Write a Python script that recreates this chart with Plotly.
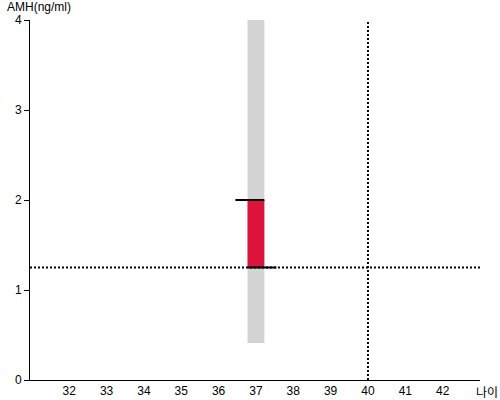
import plotly.graph_objects as go

# Data
age_current = 37
age_ref = 40
band_low, band_high = 0.41, 4.0
amh_expected = 1.25
amh_measured = 2.0
x_ticks = [32, 33, 34, 35, 36, 37, 38, 39, 40, 41, 42]
y_ticks = [0, 1, 2, 3, 4]
x_range = [30.95, 43]
y_range = [0, 4]
bar_w = 0.45

fig = go.Figure()

# gray range band
fig.add_trace(go.Bar(x=[age_current], y=[band_high - band_low], base=[band_low],
                     width=bar_w, marker=dict(color="#D3D3D3", line=dict(width=0)),
                     hoverinfo="skip", showlegend=False))
# red difference bar
fig.add_trace(go.Bar(x=[age_current], y=[amh_measured - amh_expected], base=[amh_expected],
                     width=bar_w, marker=dict(color="#DC143C", line=dict(width=0)),
                     showlegend=False))
# dotted reference lines
fig.add_trace(go.Scatter(x=x_range, y=[amh_expected, amh_expected], mode="lines",
                         line=dict(color="black", width=2, dash="2px,2px"),
                         showlegend=False, hoverinfo="skip"))
fig.add_trace(go.Scatter(x=[age_ref, age_ref], y=[0, 3.98], mode="lines",
                         line=dict(color="black", width=2, dash="2px,2px"),
                         showlegend=False, hoverinfo="skip"))
# solid marker lines
fig.add_trace(go.Scatter(x=[age_current - 0.55, age_current + bar_w / 2], y=[amh_measured, amh_measured],
                         mode="lines", line=dict(color="black", width=2),
                         showlegend=False, hoverinfo="skip"))
fig.add_trace(go.Scatter(x=[age_current - bar_w / 2, age_current + 0.55], y=[amh_expected, amh_expected],
                         mode="lines", line=dict(color="black", width=2),
                         showlegend=False, hoverinfo="skip"))

fig.update_layout(
    width=500, height=400,
    margin=dict(l=30, r=20, t=20, b=20),
    plot_bgcolor="white", paper_bgcolor="white",
    font=dict(family="Liberation Sans, Arial, sans-serif", size=12, color="black"),
    barmode="overlay",
    xaxis=dict(range=x_range, tickvals=x_ticks, showgrid=False, zeroline=False,
               showline=True, linecolor="black", linewidth=1, ticks="",
               tickfont=dict(size=12), automargin=False),
    yaxis=dict(range=y_range, tickvals=y_ticks, showgrid=False, zeroline=False,
               showline=True, linecolor="black", linewidth=1, ticks="outside",
               ticklen=5, tickcolor="black", tickfont=dict(size=12), automargin=False),
    annotations=[
        dict(text="AMH(ng/ml)", xref="paper", yref="paper", x=-25 / 450, y=1,
             xanchor="left", yanchor="bottom", showarrow=False, yshift=4,
             font=dict(size=12)),
        dict(text="나이", xref="paper", yref="paper", x=470 / 450, y=0, xanchor="right",
             yanchor="top", showarrow=False, yshift=-1,
             font=dict(family="Noto Sans CJK KR", size=12)),
    ],
)

fig.write_html("out.html", config={"displayModeBar": False},
               post_script="document.body.style.margin='0';document.body.style.overflow='hidden';")
